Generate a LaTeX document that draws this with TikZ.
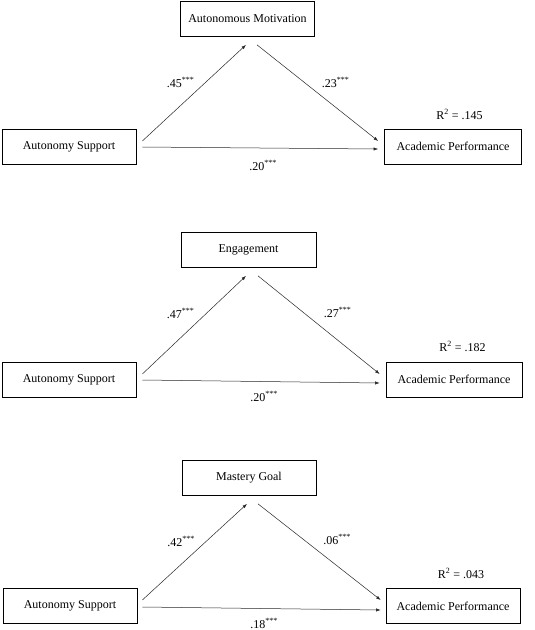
\documentclass[tikz,border=0pt]{standalone}
\usepackage{fontspec}
\setmainfont{Liberation Serif}
\usetikzlibrary{arrows.meta,calc}

\begin{document}
\begin{tikzpicture}[
  x=1pt, y=-1pt, font=\fontsize{12}{14}\selectfont,
  box/.style={draw, line width=0.7pt, minimum width=134pt, minimum height=35pt, inner sep=0pt},
  coef/.style={anchor=base, inner sep=0pt},
  arr/.style={-{Latex[length=4.5pt, width=3.2pt]}, line width=0.5pt, black!85}
]
\useasboundingbox (0,0) rectangle (535,630);
% panel 1: autonomous motivation
\node[box] (am) at (247.5,19) {Autonomous Motivation};
\node[box] (as1) at (69,146.5) {Autonomy Support};
\node[box, minimum width=137pt] (ap1) at (453,146.5) {Academic Performance};
\draw[arr] ($(as1.east)+(6,-5.5)$) -- ($(am.south)+(-1.5,8)$);
\draw[arr] ($(am.south)+(9.5,8)$) -- ($(ap1.west)+(-6,-5.5)$);
\draw[arr] ($(as1.east)+(6,0.5)$) -- ($(ap1.west)+(-6,2.5)$);
\node[coef] (c1a) at (180.5,87) {.45\textsuperscript{***}};
\node[coef] (c1b) at (335.5,87) {.23\textsuperscript{***}};
\node[coef] (c1c) at (263,170) {.20\textsuperscript{***}};
\node[coef] (r1) at (459.5,119) {R\textsuperscript{2} = .145};
% panel 2: engagement
\node[box, minimum width=135pt] (en) at (248.5,250) {Engagement};
\node[box] (as2) at (69,379.5) {Autonomy Support};
\node[box, minimum width=136pt] (ap2) at (454,379.5) {Academic Performance};
\draw[arr] ($(as2.east)+(6,-5.5)$) -- ($(en.south)+(-2.5,8)$);
\draw[arr] ($(en.south)+(9.5,8)$) -- ($(ap2.west)+(-6,-5.5)$);
\draw[arr] ($(as2.east)+(6,0.5)$) -- ($(ap2.west)+(-6,3.5)$);
\node[coef] (c2a) at (180.5,318) {.47\textsuperscript{***}};
\node[coef] (c2b) at (337.5,317) {.27\textsuperscript{***}};
\node[coef] (c2c) at (264,401) {.20\textsuperscript{***}};
\node[coef] (r2) at (462.5,351) {R\textsuperscript{2} = .182};
% panel 3: mastery goal
\node[box] (mg) at (249,478) {Mastery Goal};
\node[box] (as3) at (70,606) {Autonomy Support};
\node[box] (ap3) at (453,606) {Academic Performance};
\draw[arr] ($(as3.east)+(5,-6)$) -- ($(mg.south)+(-2,8)$);
\draw[arr] ($(mg.south)+(9,8)$) -- ($(ap3.west)+(-5,-6)$);
\draw[arr] ($(as3.east)+(5,1)$) -- ($(ap3.west)+(-5,4)$);
\node[coef] (c3a) at (181,546) {.42\textsuperscript{***}};
\node[coef] (c3b) at (337,544) {.06\textsuperscript{***}};
\node[coef] (c3c) at (264,628) {.18\textsuperscript{***}};
\node[coef] (r3) at (461,578) {R\textsuperscript{2} = .043};
\end{tikzpicture}
\end{document}
